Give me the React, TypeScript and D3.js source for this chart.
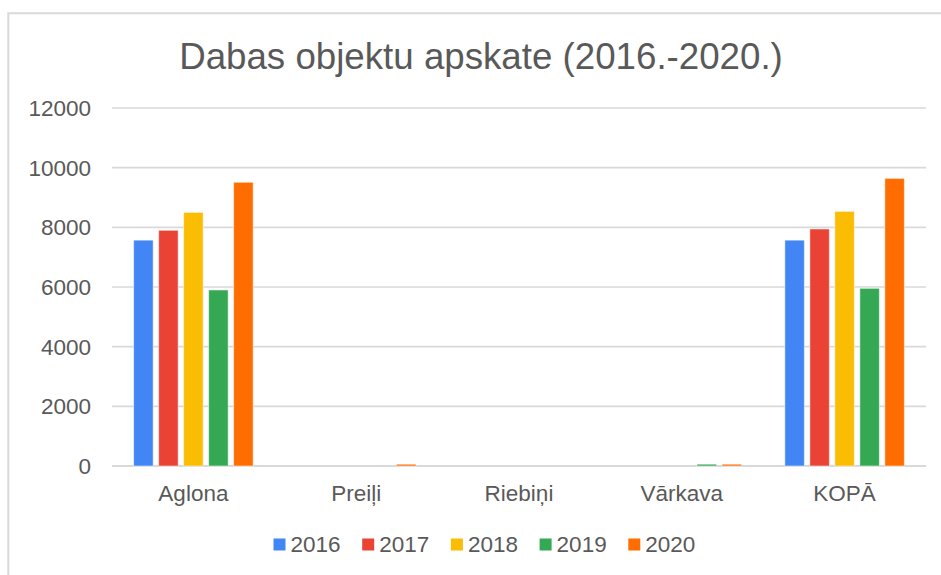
import React from "react";
import * as d3 from "d3";

const categories = ["Aglona", "Preiļi", "Riebiņi", "Vārkava", "KOPĀ"];
const years = ["2016", "2017", "2018", "2019", "2020"];
const colors = ["#4285F4", "#EA4335", "#FBBC04", "#34A853", "#FF6D01"];
// values per year, one entry per category
const v2016 = [7570, 0, 0, 0, 7570];
const v2017 = [7900, 0, 0, 0, 7945];
const v2018 = [8500, 0, 0, 0, 8535];
const v2019 = [5900, 0, 0, 60, 5955];
const v2020 = [9510, 60, 0, 60, 9640];
const yTicks = [0, 2000, 4000, 6000, 8000, 10000, 12000];

const series = [v2016, v2017, v2018, v2019, v2020];

const W = 941;
const H = 575;
const font = "'Liberation Sans', Arial, sans-serif";
const textColor = "#595959";

export default function App() {
  const x0 = d3.scaleBand().domain(categories).range([112, 926]).padding(0);
  const x1 = d3
    .scaleBand()
    .domain(years)
    .range([0, x0.bandwidth()])
    .paddingInner(0.22)
    .paddingOuter(0.866);
  const y = d3.scaleLinear().domain([0, 12000]).range([466, 108]);

  return (
    <svg
      width={W}
      height={H}
      style={{ position: "absolute", left: 0, top: 0, background: "#fff" }}
      fontFamily={font}
    >
      <path d={`M8.3,${H} V13.3 H${W}`} fill="none" stroke="#d9d9d9" strokeWidth={2} />

      <text x={481} y={69} textAnchor="middle" fontSize={36.7} fill={textColor}>
        Dabas objektu apskate (2016.-2020.)
      </text>

      {/* grid + y labels */}
      {yTicks.map((t) => (
        <g key={t}>
          <line
            x1={112}
            x2={926}
            y1={y(t)}
            y2={y(t)}
            stroke="#d9d9d9"
            strokeWidth={t === 0 ? 2 : 1.6}
          />
          <text
            x={91}
            y={y(t) + 8}
            textAnchor="end"
            fontSize={22.5}
            fill={textColor}
          >
            {t}
          </text>
        </g>
      ))}

      {/* bars */}
      {categories.map((c, ci) => (
        <g key={c} transform={`translate(${x0(c)},0)`}>
          {years.map((yr, si) => {
            const val = series[si][ci];
            if (!val) return null;
            return (
              <rect
                key={yr}
                x={x1(yr)}
                y={y(val)}
                width={x1.bandwidth()}
                height={y(0) - y(val)}
                fill={colors[si]}
                stroke="#ffffff"
                strokeOpacity={0.5}
                strokeWidth={1}
              />
            );
          })}
        </g>
      ))}

      {/* category labels */}
      {categories.map((c) => (
        <text
          key={c}
          x={(x0(c) as number) + x0.bandwidth() / 2}
          y={501}
          textAnchor="middle"
          fontSize={22.5}
          fill={textColor}
        >
          {c}
        </text>
      ))}

      {/* legend */}
      {years.map((yr, i) => (
        <g key={yr} transform={`translate(${273.5 + i * 88.7},0)`}>
          <rect x={0} y={538.5} width={12} height={12} fill={colors[i]} />
          <text x={17} y={552} fontSize={22.5} fill={textColor}>
            {yr}
          </text>
        </g>
      ))}
    </svg>
  );
}
